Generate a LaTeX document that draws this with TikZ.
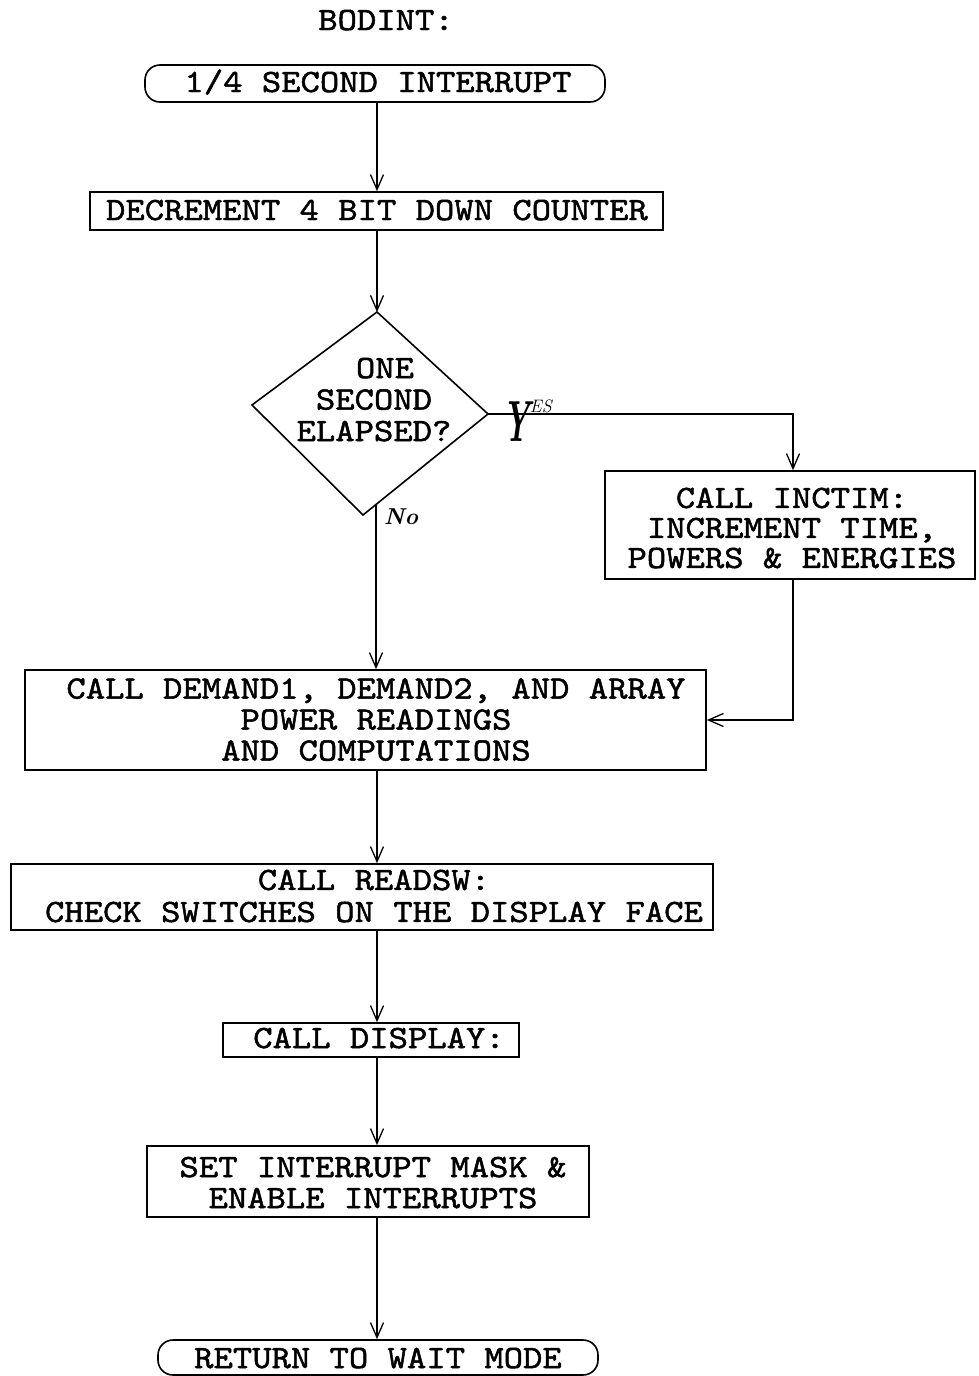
\documentclass[tikz,border=0pt]{standalone}
\usepackage{fontspec}
\usepackage{graphicx}
\usetikzlibrary{arrows.meta,calc}
% typewriter lettering used for every step: wide, slightly heavy mono
\newfontfamily\twfam{lmmono10-regular.otf}[FakeStretch=1.134,FakeBold=1.5]
\newcommand\twfont[1]{\twfam\fontsize{32.5}{#1}\selectfont\lineskiplimit=-100pt\relax}
\begin{document}
\begin{tikzpicture}[x=1pt,y=-1pt,
  stepbox/.style={draw, line width=1.6pt, inner sep=0pt},
  termbox/.style={draw, line width=1.6pt, inner sep=0pt, rounded corners=15pt},
  steptext/.style={inner sep=0pt, align=center, font=\twfont{#1}},
  steptext/.default=31pt,
  flow/.style={line width=1.3pt, -{Straight Barb[length=15pt,width=13pt,line width=1.3pt]}},
  hand/.style={inner sep=0pt}]
\useasboundingbox (0,0) rectangle (978,1376);

% guide columns for the connectors
\coordinate (axis) at (377,0);
\coordinate (yesx) at (793,0);

% title
\node[steptext, anchor=base] (title) at (386,30) {BODINT:};

% entry terminal
\node[termbox, minimum width=460pt, minimum height=37pt] (start) at (375,83.5) {};
\node[steptext, anchor=base] (starttext) at (378,92) {1/4 SECOND INTERRUPT};

% counter step
\node[stepbox, minimum width=573pt, minimum height=38pt] (decr) at (376.5,211) {};
\node[steptext, anchor=base] (decrtext) at (377,220) {DECREMENT 4 BIT DOWN COUNTER};

% decision
\coordinate (dtop) at (377,312);
\coordinate (dright) at (488,414);
\coordinate (dbot) at (363,515);
\coordinate (dleft) at (252,405);
\coordinate (dexit) at (376,504.5);
\draw[line width=1.6pt, line join=miter] (dtop) -- (dright) -- (dbot) -- (dleft) -- cycle;
\node[steptext=31.5pt] (dtext) at (374,399.6) {\hspace*{22pt}ONE\\SECOND\\ELAPSED?};

% time increment
\node[stepbox, minimum width=370pt, minimum height=108pt] (inctim) at (790,525) {};
\node[steptext=30pt] (inctimtext) at (792,528) {CALL INCTIM:\\INCREMENT TIME,\\POWERS \& ENERGIES};

% demand computations
\node[stepbox, minimum width=681pt, minimum height=100pt] (demand) at (365.5,720) {};
\node[steptext=31pt] (demandtext) at (376,719.6) {CALL DEMAND1, DEMAND2, AND ARRAY\\POWER READINGS\\AND COMPUTATIONS};

% switch reading
\node[stepbox, minimum width=702pt, minimum height=66pt] (readsw) at (362,897) {};
\node[steptext=32pt] (readswtext) at (374,896) {CALL READSW:\\CHECK SWITCHES ON THE DISPLAY FACE};

% display
\node[stepbox, minimum width=296pt, minimum height=34pt] (display) at (371,1040) {};
\node[steptext, anchor=base] (displaytext) at (379,1048) {CALL DISPLAY:};

% interrupt mask
\node[stepbox, minimum width=442pt, minimum height=71pt] (setmask) at (368,1181.5) {};
\node[steptext=31pt] (setmasktext) at (373,1182.6) {SET INTERRUPT MASK \&\\ENABLE INTERRUPTS};

% exit terminal
\node[termbox, minimum width=440pt, minimum height=35pt] (stop) at (378,1357.5) {};
\node[steptext, anchor=base] (stoptext) at (378,1368) {RETURN TO WAIT MODE};

% branch labels, written by hand
\node[hand, anchor=base west] (yes) at (502,441)
  {\scalebox{0.55}[1]{\fontsize{58}{58}\selectfont\bfseries\itshape Y}\raisebox{29pt}{\fontsize{18}{18}\selectfont\itshape ES}};
\node[hand] (no) at (401,517) {\fontsize{23}{23}\selectfont\bfseries\itshape No};

% connectors
\draw[flow] (start.south -| axis) -- (decr.north -| axis);
\draw[flow] (decr.south -| axis) -- (dtop);
\draw[flow] (dright) -- (dright -| yesx) -- (inctim.north -| yesx);
\draw[flow] (dexit) -- (demand.north -| dexit);
\coordinate (retin) at (793,720);
\draw[flow] (inctim.south -| retin) -- (retin) -- (retin -| demand.east);
\draw[flow] (demand.south -| axis) -- (readsw.north -| axis);
\draw[flow] (readsw.south -| axis) -- (display.north -| axis);
\draw[flow] (display.south -| axis) -- (setmask.north -| axis);
\draw[flow] (setmask.south -| axis) -- (stop.north -| axis);
\end{tikzpicture}
\end{document}
